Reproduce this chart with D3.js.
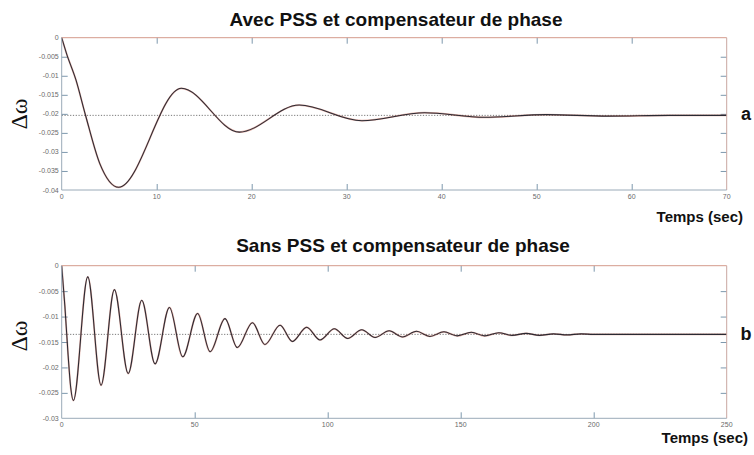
<!DOCTYPE html>
<html><head><meta charset="utf-8">
<script src="https://cdn.jsdelivr.net/npm/d3@7"></script>
<style>
html,body{margin:0;padding:0;background:#fff;}
svg{display:block;}
</style></head>
<body>
<svg id="c" width="754" height="455"></svg>
<script>
// ---- Data ----
const titleA = "Avec PSS et compensateur de phase";
const titleB = "Sans PSS et compensateur de phase";
const xLabel = "Temps (sec)";
const yLabel = "Δω";

// Panel a: time (s) and Δω
const timeA = [0, 0.5, 1.5, 2.5, 4, 6, 12.6, 18.7, 25.0, 31.6, 38.2, 44.5, 51, 57.5, 64, 70];
const dwA   = [0, -0.0041, -0.0111, -0.0203, -0.0330, -0.0393, -0.0133, -0.0248, -0.0177, -0.0218, -0.0197, -0.0209, -0.0202, -0.0206, -0.0204, -0.0204];
const steadyA = -0.0204;
const xTicksA = [0, 10, 20, 30, 40, 50, 60, 70];
const yTicksA = [0, -0.005, -0.01, -0.015, -0.02, -0.025, -0.03, -0.035, -0.04];
const yTickLabelsA = ["0", "-0.005", "-0.01", "-0.015", "-0.02", "-0.025", "-0.03", "-0.035", "-0.04"];

// Panel b
const timeB = [0, 1.2, 2.4, 3.4, 4.4, 9.8, 14.8, 19.8, 25.0, 30.1, 35.1, 40.5, 45.5, 51.1, 55.8, 61.4, 66.0, 71.7, 76.4, 82.1, 86.7, 92.1, 97.1, 102.5, 107.5, 112.8, 117.8, 123.1, 128.1, 133.4, 138.4, 143.7, 148.7, 154.0, 159.0, 164.3, 169.3, 174.6, 179.6, 184.9, 189.9, 195.2, 200, 250];
const dwB   = [0, -0.0080, -0.0175, -0.0240, -0.0265, -0.0022, -0.0235, -0.0047, -0.0212, -0.0068, -0.0193, -0.0082, -0.0179, -0.0094, -0.0169, -0.0104, -0.0161, -0.0112, -0.0155, -0.0117, -0.0149, -0.0121, -0.0146, -0.0124, -0.0143, -0.0126, -0.0141, -0.0128, -0.0140, -0.0129, -0.0139, -0.0130, -0.0138, -0.0131, -0.0138, -0.0132, -0.0137, -0.0133, -0.0137, -0.0134, -0.0136, -0.0134, -0.0135, -0.0135];
const steadyB = -0.0135;
const xTicksB = [0, 50, 100, 150, 200, 250];
const yTicksB = [0, -0.005, -0.01, -0.015, -0.02, -0.025, -0.03];
const yTickLabelsB = ["0", "-0.005", "-0.01", "-0.015", "-0.02", "-0.025", "-0.03"];

const svg = d3.select("#c");

function panel(cfg){
  const {left, right, top, bottom, xDomain, yDomain, times, vals, steady, xTicks, yTicks, yTickLabels, title, titleY, titleX, tag, tagY, xlabY, ylabY} = cfg;
  const x = d3.scaleLinear().domain(xDomain).range([left, right]);
  const y = d3.scaleLinear().domain(yDomain).range([top, bottom]);
  const g = svg.append("g");

  // ticks (inward) via axes
  const tickCol = "#7d98ad";
  const innerX = xTicks.slice(1, -1);
  const innerY = yTicks.slice(1, -1);
  const axB = g.append("g").attr("transform", `translate(0,${bottom})`)
    .call(d3.axisTop(x).tickValues(innerX).tickSize(6).tickFormat(""));
  const axT = g.append("g").attr("transform", `translate(0,${top})`)
    .call(d3.axisBottom(x).tickValues(innerX).tickSize(6).tickFormat(""));
  const axL = g.append("g").attr("transform", `translate(${left},0)`)
    .call(d3.axisRight(y).tickValues(innerY).tickSize(6).tickFormat(""));
  const axR = g.append("g").attr("transform", `translate(${right},0)`)
    .call(d3.axisLeft(y).tickValues(innerY).tickSize(6).tickFormat(""));
  [axB, axT, axL, axR].forEach(a => {
    a.select(".domain").remove();
    a.selectAll("line").attr("stroke", tickCol).attr("stroke-width", 1);
  });

  // tick labels
  const labs = g.append("g").attr("font-family", "Arial, 'Liberation Sans', sans-serif").attr("font-size", 7).attr("fill", "#6a6a6a");
  labs.selectAll("text.xl").data(xTicks).join("text")
    .attr("x", d => x(d)).attr("y", bottom + 9).attr("text-anchor", "middle").text(d => d);
  labs.selectAll("text.yl").data(yTicks).join("text")
    .attr("x", left - 3).attr("y", d => y(d) + 2.5).attr("text-anchor", "end")
    .text((d, i) => yTickLabels[i]);

  // steady-state dotted line
  g.append("line").attr("x1", x(xDomain[0])).attr("x2", x(xDomain[1]))
    .attr("y1", y(steady)).attr("y2", y(steady))
    .attr("stroke", "#555").attr("stroke-width", 0.8).attr("stroke-dasharray", "1.2,1.6");

  // response curve
  const pts = times.map((t, i) => [t, vals[i]]);
  const line = d3.line().x(d => x(d[0])).y(d => y(d[1])).curve(d3.curveMonotoneX);
  g.append("path").attr("d", line(pts)).attr("fill", "none")
    .attr("stroke", cfg.under).attr("stroke-width", 1.8).attr("stroke-opacity", 0.45);
  g.append("path").attr("d", line(pts)).attr("fill", "none")
    .attr("stroke", "#2a2a33").attr("stroke-width", 1.05);

  // frame
  g.append("line").attr("x1", left).attr("x2", right).attr("y1", top).attr("y2", top).attr("stroke", "#d49a8c").attr("stroke-width", 1);
  g.append("line").attr("x1", right).attr("x2", right).attr("y1", top).attr("y2", bottom).attr("stroke", "#c9a7a0").attr("stroke-width", 1);
  g.append("line").attr("x1", left).attr("x2", left).attr("y1", top).attr("y2", bottom).attr("stroke", "#9aaab8").attr("stroke-width", 1);
  g.append("line").attr("x1", left).attr("x2", right).attr("y1", bottom).attr("y2", bottom).attr("stroke", "#9aaab8").attr("stroke-width", 1);

  // texts
  svg.append("text").attr("x", titleX).attr("y", titleY).attr("text-anchor", "middle")
    .attr("font-family", "Arial, 'Liberation Sans', sans-serif").attr("font-weight", "bold").attr("font-size", 19)
    .attr("fill", "#111").text(title);
  svg.append("text").attr("x", 746).attr("y", tagY).attr("text-anchor", "middle")
    .attr("font-family", "Arial, 'Liberation Sans', sans-serif").attr("font-weight", "bold").attr("font-size", 18)
    .attr("fill", "#111").text(tag);
  svg.append("text").attr("x", cfg.xlabX).attr("y", xlabY).attr("text-anchor", "end")
    .attr("font-family", "Arial, 'Liberation Sans', sans-serif").attr("font-weight", "bold").attr("font-size", 15)
    .attr("fill", "#111").text(xLabel);
  svg.append("text").attr("transform", `translate(27,${ylabY}) rotate(-90)`).attr("text-anchor", "middle")
    .attr("font-family", "'Liberation Serif', 'DejaVu Serif', serif").attr("font-size", 24)
    .attr("fill", "#111").text(yLabel);
}

panel({left: 61.7, right: 726.7, top: 37.7, bottom: 190, xDomain: [0, 70], yDomain: [0, -0.04],
  times: timeA, vals: dwA, steady: steadyA, xTicks: xTicksA, yTicks: yTicksA, yTickLabels: yTickLabelsA,
  title: titleA, titleX: 396, titleY: 26, tag: "a", tagY: 120, xlabX: 743, xlabY: 222, ylabY: 114, under: "#c0503c"});
panel({left: 61.7, right: 726.7, top: 265.7, bottom: 418.3, xDomain: [0, 250], yDomain: [0, -0.03],
  times: timeB, vals: dwB, steady: steadyB, xTicks: xTicksB, yTicks: yTicksB, yTickLabels: yTickLabelsB,
  title: titleB, titleX: 403, titleY: 252, tag: "b", tagY: 340, xlabX: 748, xlabY: 443, ylabY: 336, under: "#c0503c"});
</script>
</body></html>
